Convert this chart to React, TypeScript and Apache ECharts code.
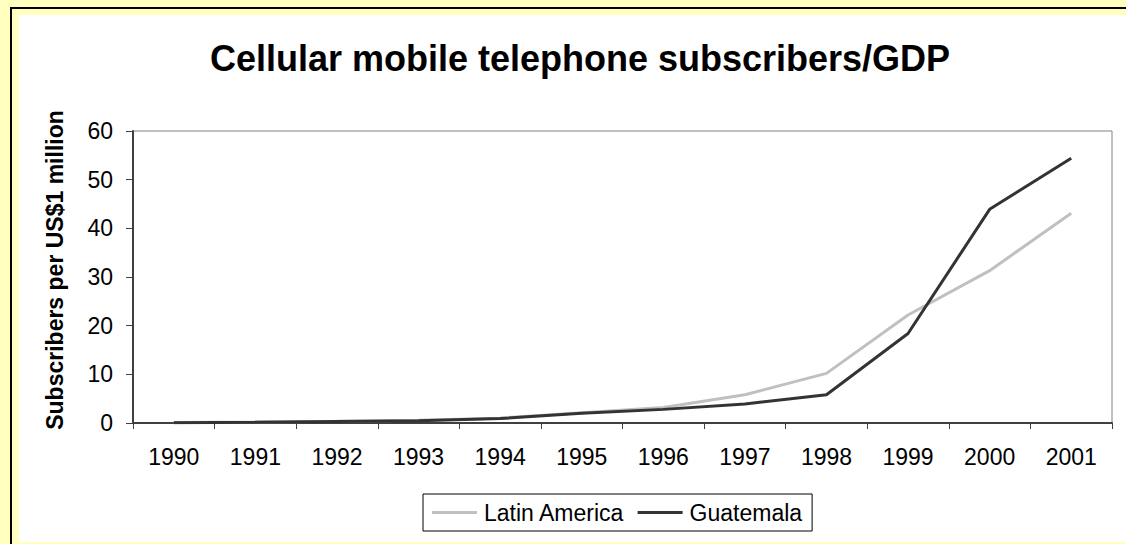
import React, { useEffect, useRef } from "react";
import * as echarts from "echarts";

const years = ["1990", "1991", "1992", "1993", "1994", "1995", "1996", "1997", "1998", "1999", "2000", "2001"];
const latinAmerica = [0.1, 0.2, 0.35, 0.55, 1.0, 2.1, 3.2, 5.8, 10.2, 22.2, 31.3, 43.1];
const guatemala = [0.05, 0.15, 0.3, 0.45, 0.9, 2.0, 2.8, 3.9, 5.8, 18.4, 43.9, 54.4];
const yTicks = { min: 0, max: 60, interval: 10 };

const FONT = "Liberation Sans, Arial, sans-serif";

export default function App() {
  const ref = useRef<HTMLDivElement>(null);
  useEffect(() => {
    document.body.style.margin = "0";
    const chart = echarts.init(ref.current!, null, { renderer: "svg" });
    chart.setOption({
      animation: false,
      backgroundColor: "#FFFFC0",
      textStyle: { fontFamily: FONT },
      graphic: [
        { type: "rect", z: -10, shape: { x: 10, y: 7, width: 1200, height: 600 }, style: { fill: "#000000" } },
        { type: "rect", z: -9, shape: { x: 12, y: 9, width: 1200, height: 600 }, style: { fill: "#FFFFC0" } },
        { type: "rect", z: -8, shape: { x: 19, y: 15, width: 1200, height: 527 }, style: { fill: "#FFFFFF" } },
      ],
      title: {
        text: "Cellular mobile telephone subscribers/GDP",
        left: 575,
        textAlign: "center",
        top: 35,
        textStyle: { fontSize: 36, fontWeight: "bold", color: "#000", fontFamily: FONT },
      },
      legend: {
        top: 494,
        left: 423,
        itemWidth: 45,
        itemHeight: 3,
        itemGap: 13,
        padding: [7, 10, 7, 9],
        borderColor: "#000",
        borderWidth: 1,
        backgroundColor: "#fff",
        icon: "rect",
        textStyle: { fontSize: 23, color: "#000", fontFamily: FONT, padding: [0, 0, 0, 2] },
        data: ["Latin America", "Guatemala"],
      },
      grid: {
        left: 133,
        top: 131,
        right: 14,
        bottom: 121,
        show: true,
        borderColor: "#808080",
        borderWidth: 1,
        backgroundColor: "#fff",
      },
      xAxis: {
        type: "category",
        data: years,
        boundaryGap: true,
        axisLine: { lineStyle: { color: "#404040", width: 2 } },
        axisTick: { show: true, interval: 0, length: 6, lineStyle: { color: "#404040", width: 1 } },
        axisLabel: { fontSize: 23, color: "#000", margin: 22, interval: 0, fontFamily: FONT },
      },
      yAxis: {
        type: "value",
        min: yTicks.min,
        max: yTicks.max,
        interval: yTicks.interval,
        name: "Subscribers per US$1 million",
        nameLocation: "middle",
        nameRotate: 90,
        nameGap: 67,
        nameTextStyle: { fontSize: 23, fontWeight: "bold", color: "#000", fontFamily: FONT, padding: [0, 0, 0, 14] },
        axisLine: { show: true, lineStyle: { color: "#404040", width: 2 } },
        axisTick: { show: true, length: 7, lineStyle: { color: "#404040", width: 1 } },
        splitLine: { show: false },
        axisLabel: { fontSize: 23, color: "#000", margin: 20, fontFamily: FONT },
      },
      series: [
        {
          name: "Latin America",
          type: "line",
          data: latinAmerica,
          symbol: "none",
          color: "#C0C0C0",
          lineStyle: { color: "#C0C0C0", width: 3 },
        },
        {
          name: "Guatemala",
          type: "line",
          data: guatemala,
          symbol: "none",
          color: "#333333",
          lineStyle: { color: "#333333", width: 3 },
        },
      ],
    });
    return () => chart.dispose();
  }, []);
  return <div ref={ref} style={{ position: "fixed", left: 0, top: 0, width: 1126, height: 544 }} />;
}
